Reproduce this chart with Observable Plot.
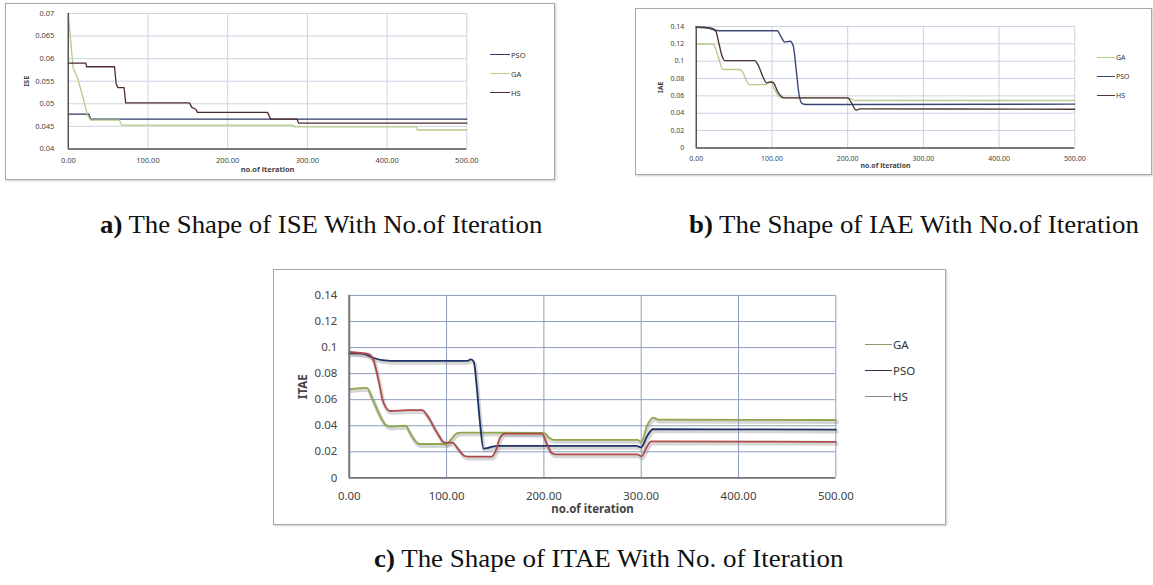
<!DOCTYPE html>
<html>
<head>
<meta charset="utf-8">
<script src="https://cdn.jsdelivr.net/npm/d3@7"></script>
<script src="https://cdn.jsdelivr.net/npm/@observablehq/plot@0.6"></script>
<style>
  html, body { margin: 0; padding: 0; background: #fff; }
  #page { position: relative; width: 1153px; height: 585px; overflow: hidden; background: #fff; }
  .box { position: absolute; box-sizing: border-box; border: 1.5px solid #a8a8a8; box-shadow: 1px 1px 2px #ccc; background: #fff; }
  .box svg { position: absolute; left: 0; top: 0; }
  .cap { position: absolute; font-family: "Liberation Serif", "Times New Roman", serif; font-size: 25px; color: #111; white-space: nowrap; transform-origin: 0 50%; }
  .leg { position: absolute; font-family: "Noto Sans", "Liberation Sans", sans-serif; color: #333; white-space: nowrap; display: flex; align-items: center; }
  .leg span.ln { display: inline-block; height: 0; margin-right: 1px; }
</style>
</head>
<body>
<div id="page"></div>
<script>
// ---------- shared axis values ----------
const xTicks = [0, 100, 200, 300, 400, 500];
const yTicksA = [0.04, 0.045, 0.05, 0.055, 0.06, 0.065, 0.07];
const yTicksB = [0, 0.02, 0.04, 0.06, 0.08, 0.1, 0.12, 0.14];
const yTicksC = [0, 0.02, 0.04, 0.06, 0.08, 0.1, 0.12, 0.14];

// ---------- (a) ISE ----------
const isePSO = [[0,0.0477],[26,0.0477],[28,0.0466],[500,0.0466]];
const iseGA  = [[0,0.070],[3,0.064],[6,0.058],[12,0.0555],[19,0.051],[24,0.0475],[28,0.0464],[64,0.0464],[67,0.0453],[282,0.0453],[284,0.0449],[437,0.0449],[438,0.0442],[500,0.0442]];
const iseHS  = [[0,0.059],[22,0.059],[23,0.0582],[58,0.0582],[60,0.0545],[62,0.0536],[70,0.0536],[72,0.0502],[152,0.0502],[155,0.0492],[160,0.0488],[162,0.0481],[250,0.0481],[254,0.0466],[287,0.0466],[289,0.0457],[500,0.0457]];

// ---------- (b) IAE ----------
const iaePSO = [[0,0.139],[10,0.139],[20,0.137],[30,0.135],[60,0.135],[107,0.135],[112,0.128],[117,0.122],[124,0.123],[128,0.118],[132,0.09],[136,0.06],[140,0.051],[145,0.050],[200,0.050],[500,0.0505]];
const iaeHS  = [[0,0.139],[20,0.138],[26,0.134],[30,0.12],[34,0.106],[38,0.1006],[77,0.1006],[82,0.095],[88,0.082],[93,0.075],[99,0.076],[102,0.075],[108,0.064],[116,0.0577],[200,0.0577],[205,0.052],[211,0.0435],[216,0.045],[500,0.0446]];
const iaeGA  = [[0,0.1197],[22,0.1197],[28,0.108],[35,0.0903],[57,0.0903],[61,0.088],[66,0.078],[70,0.073],[92,0.073],[98,0.0765],[103,0.068],[108,0.061],[112,0.0577],[200,0.0577],[210,0.0547],[500,0.0547]];

// ---------- (c) ITAE ----------
const itaeGA  = [[0,0.068],[18,0.069],[23,0.062],[30,0.05],[37,0.041],[42,0.0393],[58,0.040],[62,0.035],[67,0.029],[72,0.026],[100,0.026],[105,0.030],[110,0.034],[114,0.0347],[200,0.0345],[205,0.031],[210,0.0292],[296,0.0292],[300,0.0275],[306,0.040],[312,0.0462],[318,0.0447],[500,0.0444]];
const itaePSO = [[0,0.0955],[10,0.0955],[16,0.095],[25,0.092],[42,0.0897],[121,0.0897],[125,0.091],[128,0.089],[131,0.07],[134,0.045],[138,0.0225],[145,0.0235],[152,0.0245],[295,0.0245],[300,0.0235],[306,0.032],[312,0.0373],[500,0.0370]];
const itaeHS  = [[0,0.0966],[20,0.095],[25,0.09],[30,0.075],[35,0.058],[42,0.0513],[60,0.052],[75,0.052],[80,0.048],[90,0.035],[98,0.027],[106,0.027],[112,0.022],[118,0.017],[122,0.0163],[146,0.0163],[150,0.02],[155,0.031],[160,0.034],[198,0.034],[203,0.026],[208,0.019],[212,0.018],[296,0.018],[300,0.0165],[306,0.024],[310,0.028],[500,0.0276]];

const fmtX = d3.format(".2f");
const fmtY = d => String(+d.toFixed(3));

function rowsOf(obj) {
  const rows = [];
  for (const [name, pts] of Object.entries(obj)) for (const [x, y] of pts) rows.push({x, y, s: name});
  return rows;
}

function makeChart(o) {
  const rows = rowsOf(o.series);
  const names = Object.keys(o.series);
  const marks = [
    Plot.gridY(o.yTicks, {stroke: o.grid, strokeOpacity: 1, strokeWidth: o.gridW || 1}),
    Plot.gridX(xTicks, {stroke: o.grid, strokeOpacity: 1, strokeWidth: o.gridW || 1}),
    Plot.axisY(o.yTicks, {tickSize: 0, tickPadding: o.padY, tickFormat: fmtY, label: null, fontSize: o.fs}),
    Plot.axisX(xTicks, {tickSize: 0, tickPadding: o.padX, tickFormat: fmtX, label: null, fontSize: o.fs}),
  ];
  if (o.shadow) marks.push(Plot.line(rows, {x: "x", y: "y", z: "s", stroke: "#8a8a8a", strokeOpacity: 0.35, strokeWidth: o.sw + 2, dx: 1, dy: 2, curve: o.curve}));
  marks.push(
    Plot.line(rows, {x: "x", y: "y", z: "s", stroke: "s", strokeWidth: o.sw, curve: o.curve}),
    Plot.ruleX([0], {stroke: o.axis, strokeWidth: o.axisW}),
    Plot.ruleY([o.yTicks[0]], {stroke: o.axis, strokeWidth: o.axisW}),
    Plot.text([o.yLabel], {frameAnchor: "left", dx: o.ylDx, rotate: -90, textAnchor: "middle", fontWeight: "bold", fontSize: o.fs}),
    Plot.text(["no.of iteration"], {frameAnchor: "bottom", dy: o.xlDy, textAnchor: "middle", fontWeight: "bold", fontSize: o.fs})
  );
  return Plot.plot({
    width: o.w, height: o.h,
    marginLeft: o.ml, marginRight: o.mr, marginTop: o.mt, marginBottom: o.mb,
    x: {domain: [0, 500]},
    y: {domain: [o.yTicks[0], o.yTicks[o.yTicks.length - 1]]},
    color: {domain: names, range: o.colors},
    style: {fontFamily: '"Noto Sans", "Liberation Sans", sans-serif', color: "#444", background: "transparent", overflow: "visible"},
    marks
  });
}

const page = document.getElementById("page");
function place(x, y, w, h, svg) {
  const d = document.createElement("div");
  d.className = "box";
  Object.assign(d.style, {left: x + "px", top: y + "px", width: w + "px", height: h + "px"});
  d.appendChild(svg);
  page.appendChild(d);
}
function legend(x, y, names, colors, fs, len, gap, sw) {
  names.forEach((n, i) => {
    const l = document.createElement("div");
    l.className = "leg";
    Object.assign(l.style, {left: x + "px", top: (y + i * gap - fs * 0.7) + "px", fontSize: fs + "px"});
    l.innerHTML = `<span class="ln" style="width:${len}px;border-top:${sw}px solid ${colors[i]}"></span>${n}`;
    page.appendChild(l);
  });
}
function caption(x, y, letter, text, width) {
  const c = document.createElement("div");
  c.className = "cap";
  c.innerHTML = `<b>${letter}</b>${text}`;
  c.style.top = y + "px";
  page.appendChild(c);
  const s = width / c.offsetWidth;
  c.style.transform = `scaleX(${s})`;
  c.style.left = x + "px";
}

// chart a
place(5, 3, 550, 177, makeChart({
  w: 550, h: 177, ml: 62, mr: 88, mt: 9, mb: 32,
  yTicks: yTicksA, series: {PSO: isePSO, GA: iseGA, HS: iseHS},
  colors: ["#2e3766", "#b7cc86", "#4e2a2c"], sw: 1.3, curve: "linear",
  grid: "#cdd5e3", axis: "#555", axisW: 1.5, fs: 7.5, padY: 14, padX: 9,
  yLabel: "ISE", ylDx: -42, xlDy: 23
}));
legend(490, 55, ["PSO", "GA", "HS"], ["#2e3766", "#b7cc86", "#4e2a2c"], 7.5, 20, 19, 1.3);

// chart b
place(635, 8, 517, 167, makeChart({
  w: 517, h: 167, ml: 60, mr: 77, mt: 17, mb: 28,
  yTicks: yTicksB, series: {GA: iaeGA, PSO: iaePSO, HS: iaeHS},
  colors: ["#b9c98f", "#3b4677", "#4f3535"], sw: 1.4, curve: "monotone-x",
  grid: "#c9d2e2", axis: "#555", axisW: 1.5, fs: 7, padY: 12, padX: 8,
  yLabel: "IAE", ylDx: -36, xlDy: 20
}));
legend(1097, 58, ["GA", "PSO", "HS"], ["#b9c98f", "#3b4677", "#4f3535"], 7, 18, 19, 1.3);

// chart c
place(273, 269, 673, 256, makeChart({
  w: 673, h: 256, ml: 75, mr: 110, mt: 25, mb: 48,
  yTicks: yTicksC, series: {GA: itaeGA, PSO: itaePSO, HS: itaeHS},
  colors: ["#8fa850", "#1f3366", "#b04a4a"], sw: 1.8, curve: "monotone-x", shadow: true,
  grid: "#8f9dbd", axis: "#777", axisW: 2, fs: 11.5, padY: 12, padX: 14,
  yLabel: "ITAE", ylDx: -46, xlDy: 35
}));
legend(865, 345, ["GA", "PSO", "HS"], ["#8a9a6a", "#2c3550", "#8a8a8a"], 11.5, 27, 26, 1.6);

// captions (width fitted to the reference)
caption(100, 211, "a)", " The Shape of ISE With No.of Iteration", 442);
caption(689, 211, "b)", " The Shape of IAE With No.of Iteration", 450);
caption(374, 545, "c)", " The Shape of ITAE With No. of Iteration", 470);
</script>
</body>
</html>
